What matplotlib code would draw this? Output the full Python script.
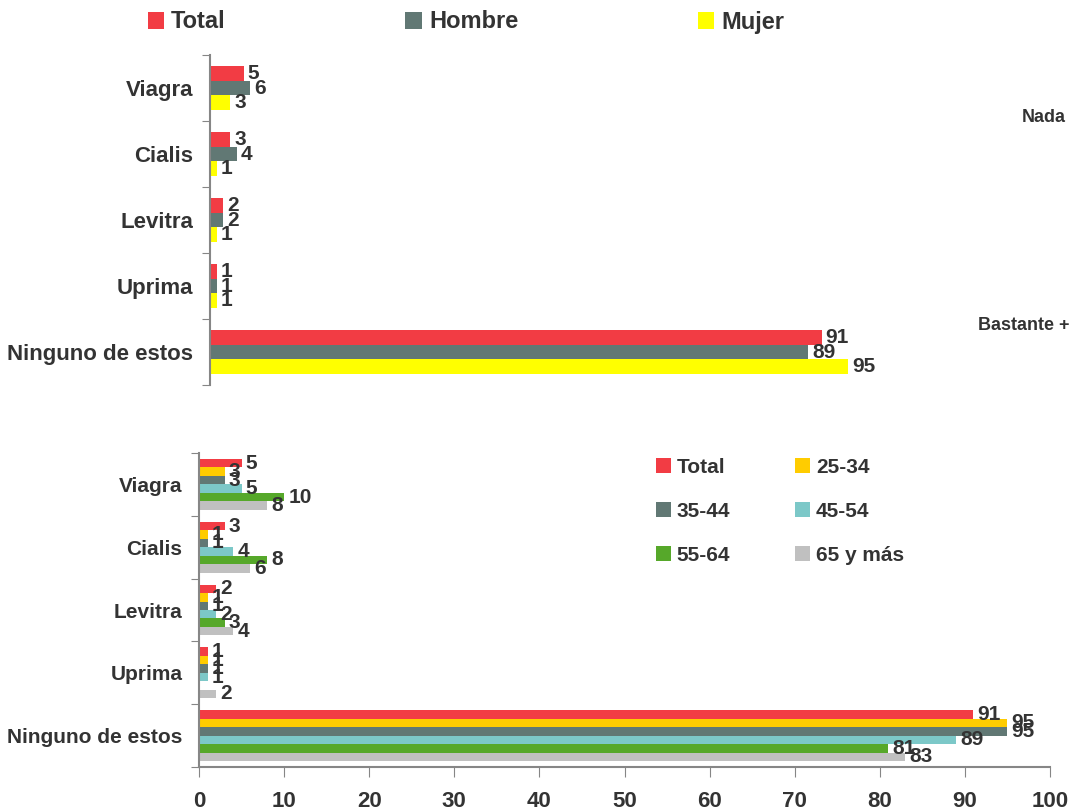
import numpy as np
import matplotlib
matplotlib.use('Agg')
import matplotlib.pyplot as plt

plt.rcParams['font.family'] = ['Liberation Sans', 'DejaVu Sans']
TXT = '#333333'
SPINE = '#868686'

# ---- data ----
categories = ['Viagra', 'Cialis', 'Levitra', 'Uprima', 'Ninguno de estos']

sex_series = ['Total', 'Hombre', 'Mujer']
sex_values = {
    'Total':  [5, 3, 2, 1, 91],
    'Hombre': [6, 4, 2, 1, 89],
    'Mujer':  [3, 1, 1, 1, 95],
}
sex_colors = {'Total': '#f23c44', 'Hombre': '#617874', 'Mujer': '#ffff00'}

age_series = ['Total', '25-34', '35-44', '45-54', '55-64', '65 y más']
age_values = {
    'Total':    [5, 3, 2, 1, 91],
    '25-34':    [3, 1, 1, 1, 95],
    '35-44':    [3, 1, 1, 1, 95],
    '45-54':    [5, 4, 2, 1, 89],
    '55-64':    [10, 8, 3, 0, 81],
    '65 y más': [8, 6, 4, 2, 83],
}
age_colors = {'Total': '#f23c44', '25-34': '#ffcc00', '35-44': '#617874',
              '45-54': '#7cc8c8', '55-64': '#56a82a', '65 y más': '#c0c0c0'}
x_ticks = [0, 10, 20, 30, 40, 50, 60, 70, 80, 90, 100]

W, H = 1072, 811
fig = plt.figure(figsize=(W / 100, H / 100), dpi=100)


def px_axes(left, top, right, bottom):
    return fig.add_axes([left / W, 1 - bottom / H, (right - left) / W, (bottom - top) / H])


def draw_group(ax, series, values, colors, bar_h, fs, cat_fs):
    n = len(series)
    y = np.arange(len(categories))
    handles = {}
    for i, s in enumerate(series):
        pos = y - bar_h * n / 2 + bar_h * (i + 0.5)
        bars = ax.barh(pos, values[s], height=bar_h, color=colors[s], label=s)
        handles[s] = bars
        labels = [str(v) if v > 0 else '' for v in values[s]]
        ax.bar_label(bars, labels=labels, padding=3, fontsize=fs,
                     fontweight='bold', color=TXT)
    ax.set_ylim(len(categories) - 0.5, -0.5)
    ax.set_yticks(np.arange(len(categories) + 1) - 0.5)
    ax.set_yticklabels([])
    ax.set_yticks(y, minor=True)
    ax.set_yticklabels(categories, minor=True, fontsize=cat_fs, fontweight='bold', color=TXT)
    ax.tick_params(axis='y', which='major', length=6, color=SPINE, direction='out')
    ax.tick_params(axis='y', which='minor', length=0, pad=12)
    for sp in ['top', 'right']:
        ax.spines[sp].set_visible(False)
    ax.spines['left'].set_color(SPINE)
    ax.spines['left'].set_linewidth(1.5)
    return handles


# ---- top chart: by sex ----
ax1 = px_axes(210, 55, 1072, 385)
draw_group(ax1, sex_series, sex_values, sex_colors, 0.227, 15, 16)
ax1.set_xlim(0, 862 / 6.72)
ax1.spines['bottom'].set_visible(False)
ax1.set_xticks([])
ax1.legend(loc='center left', bbox_to_anchor=(-0.097, 1.1), ncol=3, frameon=False,
           prop={'size': 17, 'weight': 'bold'}, labelcolor=TXT,
           handlelength=0.7, handleheight=0.7, handletextpad=0.3, columnspacing=7.6)

fig.text(1022 / W, 1 - 118 / H, 'Nada', fontsize=13, fontweight='bold',
         color=TXT, va='center', ha='left')
fig.text(978 / W, 1 - 325 / H, 'Bastante +', fontsize=13, fontweight='bold',
         color=TXT, va='center', ha='left')

# ---- bottom chart: by age ----
ax2 = px_axes(199, 453, 1050, 767)
h = draw_group(ax2, age_series, age_values, age_colors, 0.135, 15, 15)
ax2.set_xlim(0, 100)
ax2.set_xticks(x_ticks)
ax2.set_xticklabels([str(t) for t in x_ticks], fontsize=16, fontweight='bold', color=TXT)
ax2.tick_params(axis='x', length=7, color=SPINE, pad=10)
ax2.spines['bottom'].set_color(SPINE)
ax2.spines['bottom'].set_linewidth(1.5)
# legend filled row by row (matplotlib fills by column)
order = ['Total', '35-44', '55-64', '25-34', '45-54', '65 y más']
ax2.legend([h[s] for s in order], order, loc='upper left',
           bbox_to_anchor=(0.515, 1.045), ncol=2, frameon=False,
           prop={'size': 15, 'weight': 'bold'}, labelcolor=TXT,
           handlelength=0.7, handleheight=0.7, handletextpad=0.3,
           columnspacing=3.1, labelspacing=1.2)

fig.savefig('out.png', dpi=100)
